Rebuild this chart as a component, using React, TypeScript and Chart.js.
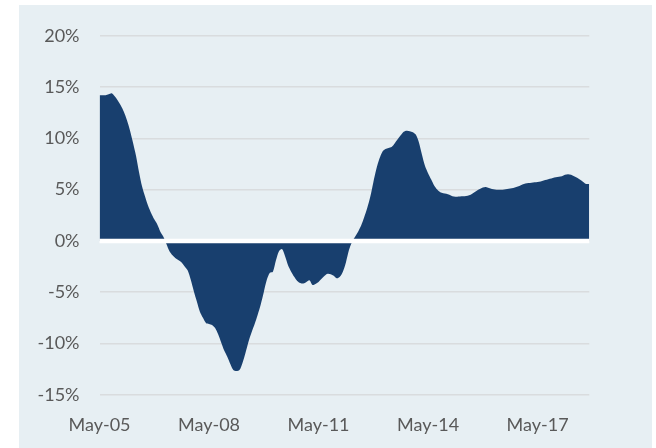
import React, { useEffect, useRef } from "react";
import { Chart, registerables } from "chart.js";

Chart.register(...registerables);

// Months elapsed since May-05 (index) -> year-over-year change, %
const growth: number[] = [
  14.2, 14.2, 14.2, 14.3, 14.4, 14.1, 13.7, 13.2, 12.6, 11.8,
  10.8, 9.6, 8.3, 6.7, 5.3, 4.3, 3.4, 2.7, 2.1, 1.6,
  0.9, 0.4, -0.3, -1.0, -1.4, -1.7, -1.9, -2.1, -2.5, -2.9,
  -3.8, -4.9, -5.9, -6.9, -7.5, -8.0, -8.1, -8.2, -8.5, -9.1,
  -9.9, -10.7, -11.3, -12.0, -12.6, -12.7, -12.6, -11.9, -10.9, -9.8,
  -8.9, -8.1, -7.2, -6.2, -5.0, -3.8, -3.1, -3.0, -1.9, -1.0,
  -0.8, -1.5, -2.4, -3.0, -3.5, -3.9, -4.1, -4.15, -4.0, -3.85,
  -4.3, -4.2, -4.0, -3.7, -3.4, -3.2, -3.25, -3.4, -3.65, -3.5,
  -3.0, -2.1, -0.9, -0.1, 0.4, 0.9, 1.5, 2.3, 3.2, 4.3,
  5.7, 7.0, 8.0, 8.7, 8.95, 9.05, 9.15, 9.5, 9.9, 10.3,
  10.65, 10.75, 10.7, 10.6, 10.35, 9.6, 8.4, 7.3, 6.6, 6.0,
  5.4, 5.0, 4.75, 4.65, 4.6, 4.5, 4.35, 4.3, 4.32, 4.35,
  4.36, 4.4, 4.5, 4.7, 4.9, 5.05, 5.2, 5.25, 5.15, 5.05,
  5.0, 4.98, 4.98, 5.0, 5.05, 5.1, 5.15, 5.25, 5.35, 5.5,
  5.6, 5.65, 5.68, 5.72, 5.75, 5.8, 5.88, 5.95, 6.05, 6.13,
  6.2, 6.25, 6.3, 6.45, 6.5, 6.45, 6.3, 6.15, 5.95, 5.75,
  5.55, 5.55,
];

const tickMonths: number[] = [0, 36, 72, 108, 144];
const tickLabels: string[] = ["May-05", "May-08", "May-11", "May-14", "May-17"];
const yTicks: number[] = [-15, -10, -5, 0, 5, 10, 15, 20];

const zeroLinePlugin = {
  id: "zeroLine",
  afterDatasetsDraw(chart: any) {
    const { ctx, chartArea, scales } = chart;
    const y = scales.y.getPixelForValue(0);
    ctx.save();
    ctx.strokeStyle = "#ffffff";
    ctx.lineWidth = 4.5;
    ctx.beginPath();
    ctx.moveTo(chartArea.left, y);
    ctx.lineTo(chartArea.right, y);
    ctx.stroke();
    ctx.restore();
  },
};

export default function App() {
  const ref = useRef<HTMLCanvasElement | null>(null);

  useEffect(() => {
    if (!ref.current) return;
    const font = { family: "Lato, 'Open Sans', sans-serif", size: 18 };
    const chart = new Chart(ref.current, {
      type: "line",
      data: {
        datasets: [
          {
            data: growth.map((v, i) => ({ x: i, y: v })),
            fill: "origin",
            backgroundColor: "#183f6e",
            borderColor: "#183f6e",
            borderWidth: 0,
            pointRadius: 0,
            tension: 0.3,
          },
        ],
      },
      options: {
        animation: false,
        responsive: false,
        maintainAspectRatio: false,
        layout: { padding: { top: 30, right: 62.7, left: 0, bottom: 0 } },
        plugins: { legend: { display: false }, tooltip: { enabled: false } },
        scales: {
          x: {
            type: "linear",
            min: 0,
            max: 161,
            grid: { display: false, drawTicks: false },
            border: { display: false },
            afterBuildTicks: (axis: any) => {
              axis.ticks = tickMonths.map((v) => ({ value: v }));
            },
            afterFit: (axis: any) => {
              axis.height = 53.3;
            },
            ticks: {
              autoSkip: false,
              maxRotation: 0,
              padding: 19.5,
              color: "#595959",
              font,
              callback: (v: any) => {
                const idx = tickMonths.indexOf(Number(v));
                return idx >= 0 ? tickLabels[idx] : "";
              },
            },
          },
          y: {
            min: -15,
            max: 20,
            afterBuildTicks: (axis: any) => {
              axis.ticks = yTicks.map((v) => ({ value: v }));
            },
            afterFit: (axis: any) => {
              axis.width = 80.5;
            },
            grid: { color: "#d9dcde", lineWidth: 1.5, drawTicks: false },
            border: { display: false },
            ticks: {
              padding: 20,
              color: "#595959",
              font,
              callback: (v: any) => `${v}%`,
            },
          },
        },
      },
      plugins: [zeroLinePlugin],
    });
    return () => chart.destroy();
  }, []);

  return (
    <div
      style={{
        position: "fixed",
        left: 19,
        top: 5,
        width: 633,
        height: 443,
        background: "#e7eff3",
      }}
    >
      <canvas ref={ref} width={633} height={443} style={{ display: "block" }} />
    </div>
  );
}
